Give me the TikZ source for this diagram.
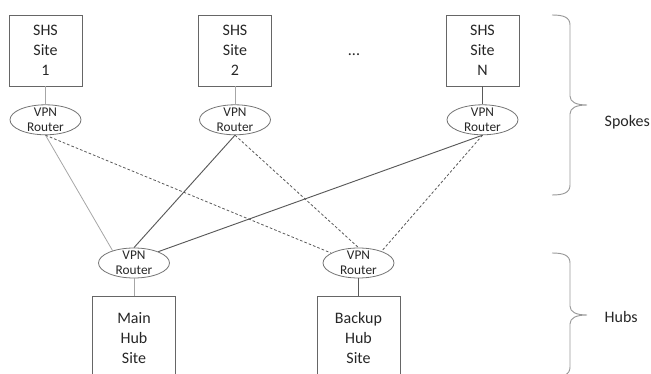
\documentclass[tikz,border=0pt]{standalone}
\usepackage{fontspec}
\setmainfont{Carlito}
\usetikzlibrary{positioning,shapes.geometric}

\begin{document}
\begin{tikzpicture}[
  x=0.75pt,y=-0.75pt,
  node distance=13.5pt,
  site/.style={draw=black!60,line width=0.6pt,minimum width=54.75pt,minimum height=53.25pt,inner sep=0pt,align=center,text=black!85,font=\fontsize{12}{15}\selectfont},
  hub/.style={site,minimum width=62.25pt,minimum height=61.5pt},
  router/.style={draw=black!55,ellipse,line width=0.6pt,minimum width=53.25pt,minimum height=22.5pt,inner sep=0pt,
    label={[font=\fontsize{10}{11}\selectfont,align=center,text=black!85]center:VPN\\Router}},
  tag/.style={anchor=west,text=black!85,font=\fontsize{12}{15}\selectfont},
  lite/.style={draw=black!35,line width=0.6pt},
  link/.style={draw=black!65,line width=0.7pt},
  dlink/.style={draw=black!65,line width=0.6pt,dash pattern=on 2pt off 1.5pt},
  brc/.style={draw=black!40,line width=0.7pt}
]
\useasboundingbox (0,0) rectangle (651,374);

% spoke sites
\node[site] (site1) at (45.5,50.5)  {SHS\\Site\\1};
\node[site] (site2) at (235,50.5)   {SHS\\Site\\2};
\node[site] (siteN) at (482.5,50.5) {SHS\\Site\\N};
\node[text=black!85,font=\fontsize{12}{15}\selectfont] (dots) at (354,55) {...};

\node[router,below=of site1] (r1) {};
\node[router,below=of site2] (r2) {};
\node[router,below=of siteN] (rN) {};

% hubs
\node[router] (mr) at (134,263)   {};
\node[router] (br) at (358.5,263) {};
\node[hub,below=of mr] (main)   {Main\\Hub\\Site};
\node[hub,below=of br] (backup) {Backup\\Hub\\Site};

\draw[lite] (site1) -- (r1);
\draw[lite] (site2) -- (r2);
\draw[link] (siteN) -- (rN);
\draw[lite] (mr) -- (main);
\draw[link] (br) -- (backup);

% primary tunnels
\draw[lite] (r1.south) -- (mr.150);
\draw[link] (r2.south) -- (mr.north);
\draw[link] (rN.south) -- (mr.25);
% backup tunnels
\draw[dlink] (r1.south) -- (br.160);
\draw[dlink] (r2.south) -- (br.north);
\draw[dlink] (rN.south) -- (br.27);

% braces
\draw[brc] (552,15) .. controls (563,15) and (570,17) .. (570,25) -- (570,96)
  .. controls (570,102) and (576,105) .. (587,105)
  .. controls (576,105) and (570,108) .. (570,114) -- (570,185)
  .. controls (570,193) and (563,195) .. (552,195);
\draw[brc] (552,253) .. controls (563,253) and (570,255) .. (570,263) -- (570,306)
  .. controls (570,312) and (576,315) .. (587,315)
  .. controls (576,315) and (570,318) .. (570,324) -- (570,367)
  .. controls (570,375) and (563,377) .. (552,377);
\node[tag] (spokes) at (600,122) {Spokes};
\node[tag] (hubs)   at (600,317) {Hubs};
\end{tikzpicture}
\end{document}
